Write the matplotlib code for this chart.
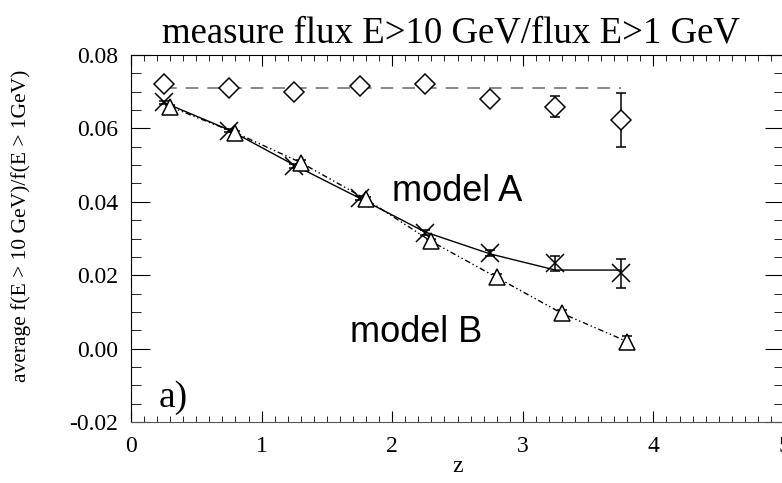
import matplotlib.pyplot as plt
from matplotlib.ticker import MultipleLocator

# data
z_obs = [0.25, 0.75, 1.25, 1.75, 2.25, 2.75, 3.25, 3.75]
obs = [0.0720, 0.0711, 0.0698, 0.0715, 0.0720, 0.0680, 0.0659, 0.0623]
obs_err = [0.0006, 0.0006, 0.0007, 0.0006, 0.0007, 0.0010, 0.0029, 0.0074]
obs_mean = 0.0710

z_a = [0.25, 0.75, 1.25, 1.75, 2.25, 2.75, 3.25, 3.75]
model_a = [0.0671, 0.0594, 0.0498, 0.0410, 0.0316, 0.0260, 0.0232, 0.0205]
model_a_err = [0.0005, 0.0005, 0.0005, 0.0005, 0.0006, 0.0008, 0.0020, 0.0040]
model_a_line = [0.0671, 0.0596, 0.0500, 0.0410, 0.0318, 0.0258, 0.0214, 0.0214]

z_b = [0.30, 0.80, 1.30, 1.80, 2.30, 2.80, 3.30, 3.80]
model_b = [0.0659, 0.0588, 0.0507, 0.0407, 0.0292, 0.0194, 0.0096, 0.0019]
model_b_err = [0.0006, 0.0006, 0.0006, 0.0007, 0.0008, 0.0009, 0.0010, 0.0014]

serif = 'Liberation Serif'

fig = plt.figure(figsize=(7.82, 4.83), dpi=100)
ax = fig.add_axes([131 / 782, 61 / 483, 653 / 782, 367 / 483])

# observed ratio, mean as dashed line
ax.plot([z_obs[0], z_obs[-1]], [obs_mean, obs_mean], '--', color='#808080', lw=1.3, dashes=(7, 5))
ax.errorbar(z_obs, obs, yerr=obs_err, fmt='D', mfc='white', mec='black', ecolor='black',
            ms=10, mew=1.1, capsize=3.5, elinewidth=1.1, zorder=3)

# model A
ax.plot(z_a, model_a_line, '-', color='black', lw=1.0)
ax.errorbar(z_a, model_a, yerr=model_a_err, fmt='x', color='black', ms=13, mew=1.1,
            capsize=3.5, elinewidth=1.1, zorder=3)

# model B
ax.plot(z_b, model_b, color='black', lw=1.0, dashes=(4, 2, 1, 2, 1, 2))
ax.errorbar(z_b, model_b, yerr=model_b_err, fmt='^', mfc='white', mec='black', ecolor='black',
            ms=11, mew=1.1, capsize=3.5, elinewidth=1.1, zorder=3)

ax.text(2.0, 0.0427, 'model A', fontsize=26, family='Liberation Sans', ha='left', va='center')
ax.text(1.68, 0.0045, 'model B', fontsize=26, family='Liberation Sans', ha='left', va='center')
ax.text(0.21, -0.0135, 'a)', fontsize=27, family=serif, ha='left', va='center')

ax.set_xlim(0, 5)
ax.set_ylim(-0.02, 0.08)
ax.xaxis.set_major_locator(MultipleLocator(1))
ax.xaxis.set_minor_locator(MultipleLocator(0.1))
ax.yaxis.set_minor_locator(MultipleLocator(0.005))
ax.set_yticks([-0.02, 0.0, 0.02, 0.04, 0.06, 0.08])
ax.set_yticklabels(['-0.02', '0.00', '0.02', '0.04', '0.06', '0.08'])
ax.tick_params(which='both', direction='in', top=True, right=True, labelsize=17)
ax.tick_params(axis='x', which='major', length=8, pad=10)
ax.tick_params(axis='x', which='minor', length=4)
ax.tick_params(axis='y', which='major', length=14, pad=9)
ax.tick_params(axis='y', which='minor', length=7)
for lab in ax.get_xticklabels() + ax.get_yticklabels():
    lab.set_family(serif)
ax.spines['bottom'].set_color('#555555')

ax.set_xlabel('z', family=serif, fontsize=17)
ax.xaxis.set_label_coords(0.5, -0.093)
ax.set_ylabel('average f(E > 10 GeV)/f(E > 1GeV)', family=serif, fontsize=15.5)
ax.yaxis.set_label_coords(-0.153, 0.534)
ax.set_title('measure flux E>10 GeV/flux E>1 GeV', family=serif, fontsize=26.5, pad=9, x=0.49)

plt.savefig('out.png', dpi=100)
